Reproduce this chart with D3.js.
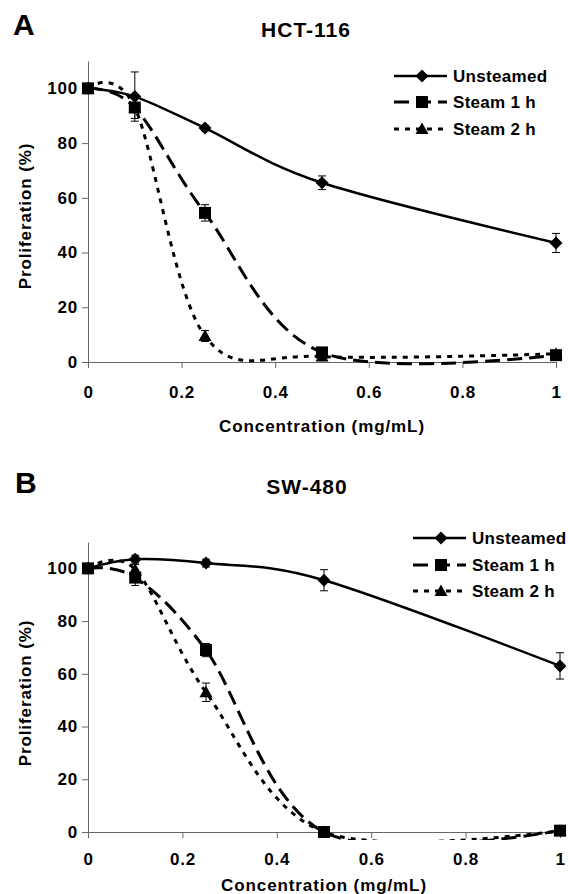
<!DOCTYPE html>
<html>
<head>
<meta charset="utf-8">
<script src="https://cdn.jsdelivr.net/npm/d3@7"></script>
<style>
	body { margin: 0; background: #fff; }
	svg { display: block; font-family: "Liberation Sans", Arial, sans-serif; font-weight: bold; }
</style>
</head>
<body>
<div id="chart"></div>
<script>
const concentrations = [0, 0.1, 0.25, 0.5, 1];
const seriesNames = ["Unsteamed", "Steam 1 h", "Steam 2 h"];
const xTicks = [0, 0.2, 0.4, 0.6, 0.8, 1];
const yTicks = [0, 20, 40, 60, 80, 100];

// HCT-116
const hctUnsteamed = [100, 97, 85.5, 65.5, 43.5];
const hctUnsteamedErr = [0, 9, 1, 2.5, 3.5];
const hctSteam1 = [100, 93, 54.5, 3.5, 2.5];
const hctSteam1Err = [0, 4, 3, 1, 1];
const hctSteam2 = [100, 93, 9.5, 2, 3];
const hctSteam2Err = [0, 1, 2, 0.5, 0.5];

// SW-480
const swUnsteamed = [100, 103.5, 102, 95.5, 63];
const swUnsteamedErr = [0, 1.5, 1.5, 4, 5];
const swSteam1 = [100, 96.5, 69, 0, 0.5];
const swSteam1Err = [0, 3, 2.5, 0.5, 0.5];
const swSteam2 = [100, 99.5, 53, 0, 0.5];
const swSteam2Err = [0, 2, 3.5, 0.5, 0.5];

const styles = [
	{ dash: null, width: 2.5, marker: "diamond" },
	{ dash: "15,7", width: 3, marker: "square" },
	{ dash: "5,6", width: 3, marker: "triangle" }
];

var svg = d3.select("#chart")
	.append("svg")
	.attr("width", 568)
	.attr("height", 894);

function markerPath(type, cx, cy) {
	if (type === "diamond") {
		var r = 6.5;
		return "M" + cx + "," + (cy - r) + "L" + (cx + r) + "," + cy + "L" + cx + "," + (cy + r) + "L" + (cx - r) + "," + cy + "Z";
	}
	if (type === "square") {
		var s = 6;
		return "M" + (cx - s) + "," + (cy - s) + "h" + (2 * s) + "v" + (2 * s) + "h" + (-2 * s) + "Z";
	}
	return "M" + cx + "," + (cy - 6.5) + "L" + (cx + 6.5) + "," + (cy + 5) + "L" + (cx - 6.5) + "," + (cy + 5) + "Z";
}

function drawPanel(p) {
	var g = svg.append("g");

	var x = d3.scaleLinear().domain([0, 1]).range(p.xRange);
	var y = d3.scaleLinear().domain([0, 110]).range(p.yRange);

	g.append("text")
		.attr("x", p.letterX)
		.attr("y", p.letterY)
		.attr("font-size", 30)
		.text(p.letter);

	g.append("text")
		.attr("x", p.titleX)
		.attr("y", p.titleY)
		.attr("text-anchor", "middle")
		.attr("font-size", 21)
		.attr("letter-spacing", 1)
		.text(p.title);

	var xAxis = g.append("g")
		.attr("transform", "translate(0," + p.yRange[0] + ")")
		.call(d3.axisBottom(x).tickValues(xTicks).tickSize(6).tickSizeOuter(0).tickPadding(p.xPad)
			.tickFormat(function (d) { return d3.format("")(d); }));
	var yAxis = g.append("g")
		.attr("transform", "translate(" + p.xRange[0] + ",0)")
		.call(d3.axisLeft(y).tickValues(yTicks).tickSize(6).tickSizeOuter(0).tickPadding(4));

	[xAxis, yAxis].forEach(function (a) {
		a.select(".domain").attr("stroke", "#666");
		a.selectAll(".tick line").attr("stroke", "#666");
		a.selectAll(".tick text")
			.attr("font-size", 17)
			.attr("font-family", "Liberation Sans, Arial, sans-serif")
			.attr("font-weight", "bold")
			.attr("letter-spacing", 0.8)
			.attr("fill", "#000");
	});

	g.append("text")
		.attr("x", (p.xRange[0] + p.xRange[1]) / 2)
		.attr("y", p.xTitleY)
		.attr("text-anchor", "middle")
		.attr("font-size", 17)
		.attr("letter-spacing", 0.9)
		.text("Concentration (mg/mL)");

	g.append("text")
		.attr("transform", "translate(31," + p.yTitleY + ") rotate(-90)")
		.attr("text-anchor", "middle")
		.attr("font-size", 17)
		.attr("letter-spacing", 0.9)
		.text("Proliferation (%)");

	var clipId = "clip-" + p.letter;
	g.append("clipPath")
		.attr("id", clipId)
		.append("rect")
		.attr("x", p.xRange[0] - 10)
		.attr("y", p.yRange[1] - 10)
		.attr("width", p.xRange[1] - p.xRange[0] + 20)
		.attr("height", p.yRange[0] - p.yRange[1] + 18);

	var line = d3.line()
		.x(function (d) { return x(d.c); })
		.y(function (d) { return y(d.v); })
		.curve(d3.curveCardinal.tension(0));

	p.series.forEach(function (s, i) {
		var data = concentrations.map(function (c, j) {
			return { c: c, v: s.values[j], e: s.errors[j] };
		});
		var st = styles[i];

		g.append("path")
			.datum(data)
			.attr("clip-path", "url(#" + clipId + ")")
			.attr("fill", "none")
			.attr("stroke", "#000")
			.attr("stroke-width", st.width)
			.attr("stroke-dasharray", st.dash)
			.attr("d", line);

		var eb = g.append("g").selectAll("g")
			.data(data.filter(function (d) { return d.e > 0; }))
			.enter().append("g")
			.attr("stroke", "#000")
			.attr("stroke-width", 1);
		eb.append("line")
			.attr("x1", function (d) { return x(d.c); })
			.attr("x2", function (d) { return x(d.c); })
			.attr("y1", function (d) { return y(d.v - d.e); })
			.attr("y2", function (d) { return y(d.v + d.e); });
		[-1, 1].forEach(function (sign) {
			eb.append("line")
				.attr("x1", function (d) { return x(d.c) - 4; })
				.attr("x2", function (d) { return x(d.c) + 4; })
				.attr("y1", function (d) { return y(d.v + sign * d.e); })
				.attr("y2", function (d) { return y(d.v + sign * d.e); });
		});

		g.append("g").selectAll("path")
			.data(data)
			.enter().append("path")
			.attr("fill", "#000")
			.attr("d", function (d) { return markerPath(st.marker, x(d.c), y(d.v)); });

		// legend
		var ly = p.legendY[i];
		g.append("line")
			.attr("x1", p.legendX)
			.attr("x2", p.legendX + 53)
			.attr("y1", ly)
			.attr("y2", ly)
			.attr("stroke", "#000")
			.attr("stroke-width", st.width)
			.attr("stroke-dasharray", st.dash);
		g.append("path")
			.attr("fill", "#000")
			.attr("d", markerPath(st.marker, p.legendX + 28, ly));
		g.append("text")
			.attr("x", p.legendX + 59)
			.attr("y", ly + 6)
			.attr("font-size", 17)
			.attr("letter-spacing", 0.3)
			.text(seriesNames[i]);
	});
}

drawPanel({
	letter: "A", letterX: 13, letterY: 35,
	title: "HCT-116", titleX: 306, titleY: 37,
	xRange: [88, 556], yRange: [362, 61], xPad: 18,
	xTitleY: 432, yTitleY: 216,
	legendX: 394, legendY: [76, 102, 129],
	series: [
		{ values: hctUnsteamed, errors: hctUnsteamedErr },
		{ values: hctSteam1, errors: hctSteam1Err },
		{ values: hctSteam2, errors: hctSteam2Err }
	]
});

drawPanel({
	letter: "B", letterX: 15, letterY: 493,
	title: "SW-480", titleX: 307, titleY: 494,
	xRange: [88, 560], yRange: [832, 542], xPad: 15,
	xTitleY: 891, yTitleY: 693,
	legendX: 413, legendY: [538, 565, 591],
	series: [
		{ values: swUnsteamed, errors: swUnsteamedErr },
		{ values: swSteam1, errors: swSteam1Err },
		{ values: swSteam2, errors: swSteam2Err }
	]
});
</script>
</body>
</html>
